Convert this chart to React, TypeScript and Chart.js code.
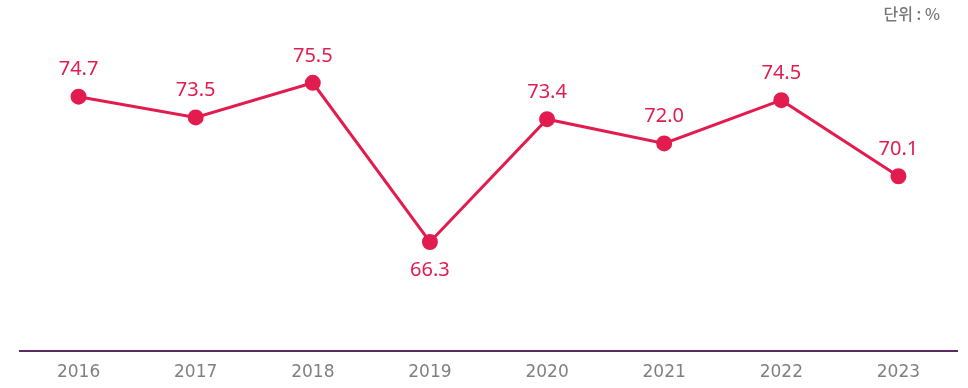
import React, { useEffect, useRef } from "react";
import { Chart, registerables } from "chart.js";

Chart.register(...registerables);

const years = ["2016", "2017", "2018", "2019", "2020", "2021", "2022", "2023"];
const rates = [74.7, 73.5, 75.5, 66.3, 73.4, 72.0, 74.5, 70.1];
const labelBelow = [false, false, false, true, false, false, false, false];
const unitText = "단위 : %";

const RED = "#e31c4f";
const LABEL_FONT = "'Noto Sans', sans-serif";
const TICK_FONT = "'DejaVu Sans', sans-serif";
const UNIT_FONT = "'Noto Sans CJK KR', sans-serif";

const labelPlugin = {
  id: "valueLabels",
  afterDatasetsDraw(chart: any) {
    const ctx = chart.ctx;
    const meta = chart.getDatasetMeta(0);
    ctx.save();
    ctx.font = `20px ${LABEL_FONT}`;
    ctx.fillStyle = RED;
    ctx.textAlign = "center";
    ctx.textBaseline = "middle";
    meta.data.forEach((pt: any, i: number) => {
      const v = rates[i];
      const dy = labelBelow[i] ? 28 : -27;
      ctx.fillText(v.toFixed(1), pt.x, pt.y + dy);
    });
    ctx.font = `500 16px ${UNIT_FONT}`;
    ctx.fillStyle = "#777777";
    ctx.textAlign = "right";
    ctx.fillText(unitText, 940, 14);
    ctx.restore();
  },
};

export default function App() {
  const ref = useRef<HTMLCanvasElement>(null);
  useEffect(() => {
    document.body.style.margin = "0";
    const chart = new Chart(ref.current!, {
      type: "line",
      data: {
        labels: years,
        datasets: [
          {
            data: rates,
            borderColor: RED,
            backgroundColor: RED,
            borderWidth: 3,
            pointRadius: 6.5,
            pointHoverRadius: 6.5,
            pointBackgroundColor: RED,
            pointBorderColor: RED,
            tension: 0,
          },
        ],
      },
      options: {
        animation: false,
        responsive: false,
        maintainAspectRatio: false,
        layout: { autoPadding: false, padding: { left: 20, right: 11, top: 5, bottom: 0 } },
        plugins: { legend: { display: false }, tooltip: { enabled: false } },
        scales: {
          y: { display: false, min: 60, max: 80 },
          x: {
            offset: true,
            grid: { display: false, drawTicks: false },
            border: { display: true, color: "#5c2a5e", width: 2 },
            ticks: {
              color: "#808080",
              font: { family: TICK_FONT, size: 17 },
              padding: 11,
            },
            afterFit(scale: any) {
              scale.height = 37;
            },
          },
        },
      },
      plugins: [labelPlugin],
    });
    return () => chart.destroy();
  }, []);
  return (
    <div style={{ position: "absolute", left: 0, top: 0, width: 968, height: 388 }}>
      <canvas ref={ref} width={968} height={388} style={{ display: "block" }} />
    </div>
  );
}
